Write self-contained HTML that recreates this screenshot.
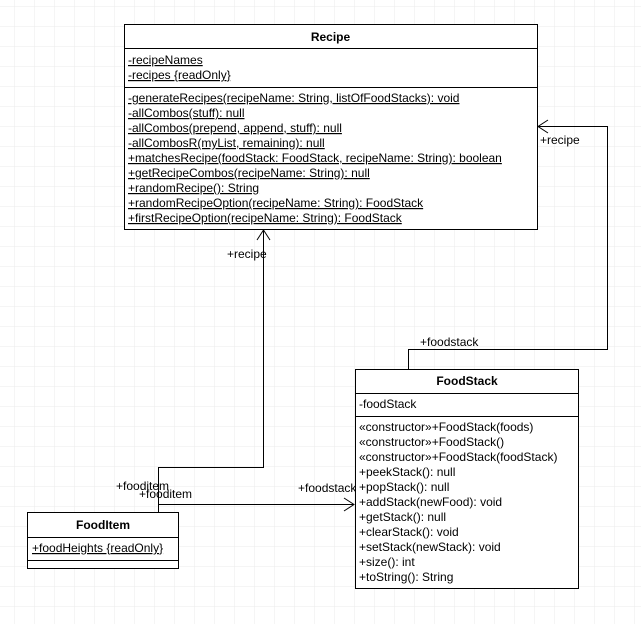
<!DOCTYPE html>
<html><head><style>
html,body{margin:0;padding:0;background:#fff}
svg{display:block}
text{font-family:"Liberation Sans",sans-serif;font-size:12px;fill:#000}
</style></head><body>
<svg width="641" height="624" xmlns="http://www.w3.org/2000/svg">
<defs>
<pattern id="g" x="14" y="6" width="20" height="20" patternUnits="userSpaceOnUse">
<path d="M0 0H20M0 0V20" stroke="#ebebeb" stroke-width="1" fill="none"/>
</pattern>
</defs>
<rect width="641" height="624" fill="url(#g)"/>

<!-- connectors -->
<g stroke="#000" fill="none" stroke-width="1">
<polyline points="158.5,512 158.5,467.5 263.5,467.5 263.5,230"/>
<polyline points="257,240 263.5,230 270,240"/>
<polyline points="408.5,369 408.5,349.5 607.5,349.5 607.5,126.5 538,126.5"/>
<polyline points="548,120 538,126.5 548,133"/>
<polyline points="158.5,504.5 354,504.5"/>
<polyline points="344,498 354,504.5 344,511"/>
</g>
<text x="227" y="258">+recipe</text>
<text x="540" y="144">+recipe</text>
<text x="420" y="346">+foodstack</text>
<text x="298" y="492">+foodstack</text>
<text x="116" y="490">+fooditem</text>
<text x="139" y="498">+fooditem</text>

<!-- Recipe -->
<rect x="124.5" y="24.5" width="413" height="205" fill="#fff" stroke="#000"/>
<line x1="124" y1="48.5" x2="537" y2="48.5" stroke="#000"/>
<line x1="124" y1="87.5" x2="537" y2="87.5" stroke="#000"/>
<text x="330.5" y="41" text-anchor="middle" font-weight="bold">Recipe</text>
<g text-decoration="underline">
<text x="128" y="64">-recipeNames</text>
<text x="128" y="79">-recipes {readOnly}</text>
<text x="128" y="102">-generateRecipes(recipeName: String, listOfFoodStacks): void</text>
<text x="128" y="117">-allCombos(stuff): null</text>
<text x="128" y="132">-allCombos(prepend, append, stuff): null</text>
<text x="128" y="147">-allCombosR(myList, remaining): null</text>
<text x="128" y="162">+matchesRecipe(foodStack: FoodStack, recipeName: String): boolean</text>
<text x="128" y="177">+getRecipeCombos(recipeName: String): null</text>
<text x="128" y="192">+randomRecipe(): String</text>
<text x="128" y="207">+randomRecipeOption(recipeName: String): FoodStack</text>
<text x="128" y="222">+firstRecipeOption(recipeName: String): FoodStack</text>
</g>

<!-- FoodStack -->
<rect x="355.5" y="369.5" width="223" height="219" fill="#fff" stroke="#000"/>
<line x1="355" y1="393.5" x2="578" y2="393.5" stroke="#000"/>
<line x1="355" y1="416.5" x2="578" y2="416.5" stroke="#000"/>
<text x="467" y="385" text-anchor="middle" font-weight="bold">FoodStack</text>
<text x="359" y="408">-foodStack</text>
<text x="359" y="431">«constructor»+FoodStack(foods)</text>
<text x="359" y="446">«constructor»+FoodStack()</text>
<text x="359" y="461">«constructor»+FoodStack(foodStack)</text>
<text x="359" y="476">+peekStack(): null</text>
<text x="359" y="491">+popStack(): null</text>
<text x="359" y="506">+addStack(newFood): void</text>
<text x="359" y="521">+getStack(): null</text>
<text x="359" y="536">+clearStack(): void</text>
<text x="359" y="551">+setStack(newStack): void</text>
<text x="359" y="566">+size(): int</text>
<text x="359" y="581">+toString(): String</text>

<!-- FoodItem -->
<rect x="27.5" y="512.5" width="151" height="56" fill="#fff" stroke="#000"/>
<line x1="27" y1="537.5" x2="178" y2="537.5" stroke="#000"/>
<line x1="27" y1="560.5" x2="178" y2="560.5" stroke="#000"/>
<text x="103" y="529" text-anchor="middle" font-weight="bold">FoodItem</text>
<text x="32" y="552" text-decoration="underline">+foodHeights {readOnly}</text>
</svg>
</body></html>
